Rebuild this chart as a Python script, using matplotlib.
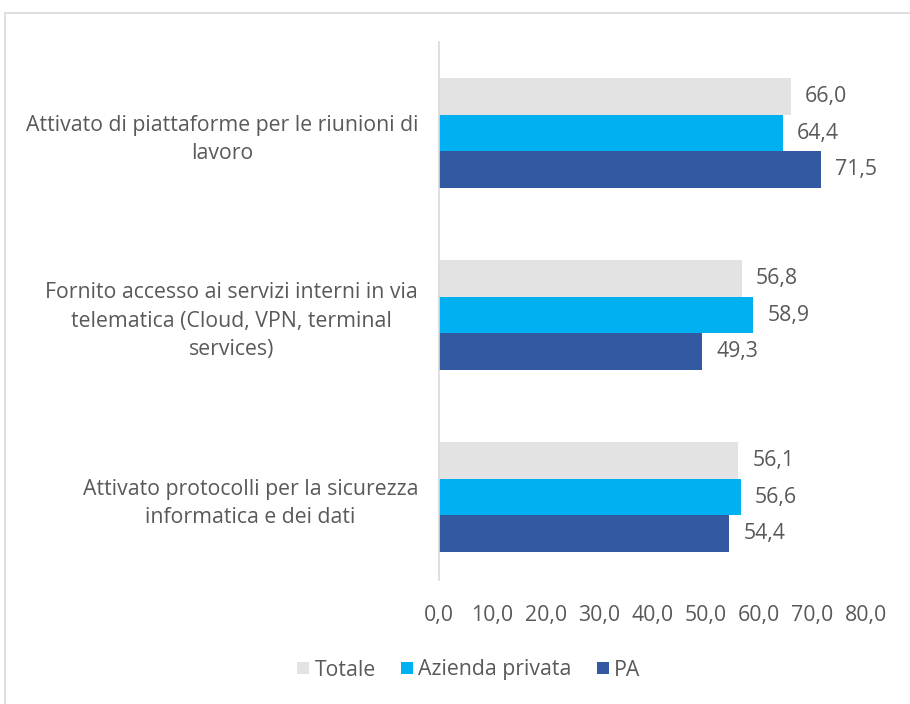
import matplotlib
matplotlib.use('Agg')
import matplotlib.pyplot as plt
from matplotlib.patches import Rectangle
import numpy as np

categories = [
    'Attivato di piattaforme per le riunioni di\nlavoro',
    'Fornito accesso ai servizi interni in via\ntelematica (Cloud, VPN, terminal\nservices)',
    'Attivato protocolli per la sicurezza\ninformatica e dei dati',
]
series_names = ['Totale', 'Azienda privata', 'PA']
totale = [66.0, 56.8, 56.1]
azienda = [64.4, 58.9, 56.6]
pa = [71.5, 49.3, 54.4]
x_ticks = [0, 10, 20, 30, 40, 50, 60, 70, 80]

colors = ['#E3E3E3', '#00B0F0', '#335AA0']
text_color = '#595959'
fs = 15.3

plt.rcParams['font.family'] = ['Open Sans', 'DejaVu Sans']

fig = plt.figure(figsize=(9.1, 7.04), dpi=100)
ax = fig.add_axes([439 / 910, 1 - 580 / 704, 427 / 910, 538 / 704])

# outer chart border
fig.patches.append(Rectangle((5 / 910, -0.05), 1.1, 1 - 13 / 704 + 0.05,
                             transform=fig.transFigure, fill=False,
                             edgecolor='#D9D9D9', linewidth=1.2))

y = np.arange(len(categories))
h = 0.203
for i, (name, vals) in enumerate(zip(series_names, [totale, azienda, pa])):
    pos = y + (i - 1) * h
    bars = ax.barh(pos, vals, height=h, color=colors[i], label=name)
    for b, v in zip(bars, vals):
        ax.annotate(('%.1f' % v).replace('.', ','),
                    xy=(v, b.get_y() + b.get_height() / 2),
                    xytext=(10, 0), textcoords='offset points',
                    va='center', ha='left', fontsize=fs, color=text_color)

ax.set_xlim(0, 80)
ax.set_ylim(2.456, -0.5)
ax.set_xticks(x_ticks)
ax.set_xticklabels([('%.1f' % t).replace('.', ',') for t in x_ticks])
ax.set_yticks(y)
ax.set_yticklabels(categories)
for lbl in ax.get_yticklabels():
    lbl.set_multialignment('center')
    lbl.set_linespacing(1.45)

ax.tick_params(axis='x', length=0, pad=18, labelsize=fs, labelcolor=text_color)
ax.tick_params(axis='y', length=0, pad=15, labelsize=fs, labelcolor=text_color)
for s in ['top', 'right', 'bottom']:
    ax.spines[s].set_visible(False)
ax.spines['left'].set_color('#D9D9D9')
ax.spines['left'].set_linewidth(1.2)

ax.legend(loc='center', bbox_to_anchor=(469 / 910, 1 - 670 / 704),
          bbox_transform=fig.transFigure, ncol=3, frameon=False,
          fontsize=fs, labelcolor=text_color, handlelength=0.55,
          handleheight=0.55, handletextpad=0.25, columnspacing=1.2)

fig.savefig('out.png', dpi=100)
